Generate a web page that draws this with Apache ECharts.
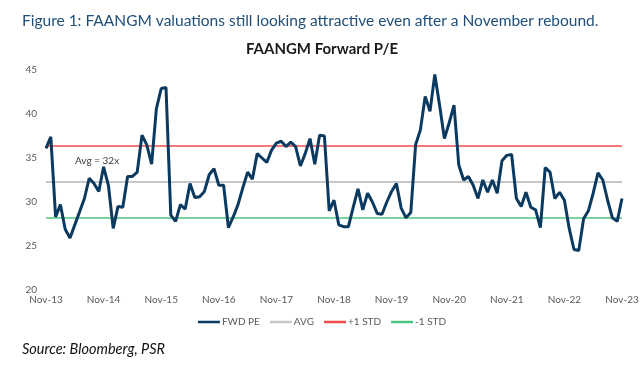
<!DOCTYPE html>
<html>
<head>
<meta charset="utf-8">
<script src="https://cdn.jsdelivr.net/npm/echarts@6/dist/echarts.min.js"></script>
<style>
html,body{margin:0;padding:0;background:#fff;}
#c{width:644px;height:365px;}
</style>
</head>
<body>
<div id="c"></div>
<script>
// Monthly Forward P/E, Nov-13 .. Nov-23
const fwdPE = [
  36.1, 37.4, 28.3, 29.7, 26.9, 25.9, 27.4, 28.9, 30.4, 32.7, 32.1, 31.2,
  34.0, 31.9, 27.0, 29.5, 29.4, 32.9, 32.9, 33.4, 37.6, 36.5, 34.3, 40.6,
  42.9, 43.0, 28.5, 27.8, 29.7, 29.2, 32.1, 30.5, 30.6, 31.2, 33.1, 33.8,
  31.9, 31.9, 27.1, 28.3, 29.7, 31.6, 33.4, 32.6, 35.5, 35.0, 34.5, 35.9,
  36.7, 36.9, 36.3, 36.8, 36.3, 34.1, 35.5, 37.2, 34.3, 37.6, 37.5, 29.0,
  30.2, 27.4, 27.2, 27.2, 29.4, 31.5, 29.1, 31.0, 30.0, 28.7, 28.6, 30.0,
  31.2, 32.1, 29.3, 28.2, 28.8, 36.5, 38.2, 42.0, 40.3, 44.5, 41.0, 37.2,
  39.0, 41.0, 34.2, 32.5, 32.9, 31.9, 30.4, 32.5, 31.1, 32.5, 31.0, 34.7,
  35.3, 35.4, 30.4, 29.5, 31.1, 29.4, 29.1, 27.1, 33.9, 33.4, 30.4, 31.1,
  30.2, 27.0, 24.6, 24.5, 28.1, 29.0, 31.0, 33.3, 32.5, 30.2, 28.2, 27.8,
  30.4
];
const avgValue = 32.3;
const plusStd = 36.4;
const minusStd = 28.2;
const yTicks = [20, 25, 30, 35, 40, 45];
const monthNames = ['Jan','Feb','Mar','Apr','May','Jun','Jul','Aug','Sep','Oct','Nov','Dec'];
const startYear = 13, startMonth = 10; // Nov-13

const categories = [];
for (let i = 0; i < fwdPE.length; i++) {
  const m = (startMonth + i) % 12;
  const y = startYear + Math.floor((startMonth + i) / 12);
  categories.push(monthNames[m] + '-' + y);
}

const font = 'Lato, "Open Sans", sans-serif';
const chart = echarts.init(document.getElementById('c'), null, {renderer: 'canvas'});
chart.setOption({
  animation: false,
  backgroundColor: '#fff',
  title: [
    {text: 'Figure 1: FAANGM valuations still looking attractive even after a November rebound.',
     left: 17, top: 8,
     textStyle: {fontFamily: font, fontSize: 15.5, fontWeight: 'normal', color: '#1F4E79'}},
    {text: 'FAANGM Forward P/E', left: 'center', top: 37,
     textStyle: {fontFamily: font, fontSize: 15, fontWeight: 'bold', color: '#1a1a1a'}},
    {text: 'Source: Bloomberg, PSR', left: 17, top: 337,
     textStyle: {fontFamily: font, fontSize: 14.5, fontWeight: 'normal', fontStyle: 'italic', color: '#111'}}
  ],
  grid: {left: 46, right: 22, top: 70, bottom: 75, containLabel: false},
  xAxis: {
    type: 'category', data: categories, boundaryGap: false,
    axisLine: {show: false}, axisTick: {show: false}, splitLine: {show: false},
    axisLabel: {interval: 11, color: '#595959', fontSize: 10, fontFamily: font, margin: 5}
  },
  yAxis: {
    type: 'value', min: yTicks[0], max: yTicks[yTicks.length - 1], interval: 5,
    axisLine: {show: false}, axisTick: {show: false}, splitLine: {show: false},
    axisLabel: {color: '#595959', fontSize: 10, fontFamily: font, margin: 9}
  },
  legend: {
    bottom: 33, left: 'center', icon: 'rect', itemWidth: 22, itemHeight: 2.5, itemGap: 10,
    textStyle: {color: '#595959', fontSize: 10, fontFamily: font, padding: [0, 0, 0, -3]},
    data: ['FWD PE', 'AVG', '+1 STD', '-1 STD']
  },
  graphic: [
    {type: 'text', left: 75, top: 156,
     style: {text: 'Avg = 32x', fill: '#404040', font: '10px ' + font}}
  ],
  series: [
    {name: 'FWD PE', type: 'line', data: fwdPE, symbol: 'none', z: 5,
     lineStyle: {color: '#0B3A60', width: 3}, itemStyle: {color: '#0B3A60'}},
    {name: 'AVG', type: 'line', data: [], symbol: 'none',
     lineStyle: {color: '#C8C8C8', width: 2}, itemStyle: {color: '#C8C8C8'},
     markLine: {silent: true, symbol: 'none', label: {show: false},
       lineStyle: {color: '#C8C8C8', width: 2, type: 'solid'}, data: [{yAxis: avgValue}]}},
    {name: '+1 STD', type: 'line', data: [], symbol: 'none',
     lineStyle: {color: '#F24C4C', width: 1.5}, itemStyle: {color: '#F24C4C'},
     markLine: {silent: true, symbol: 'none', label: {show: false},
       lineStyle: {color: '#F24C4C', width: 1.5, type: 'solid'}, data: [{yAxis: plusStd}]}},
    {name: '-1 STD', type: 'line', data: [], symbol: 'none',
     lineStyle: {color: '#4CC47E', width: 1.5}, itemStyle: {color: '#4CC47E'},
     markLine: {silent: true, symbol: 'none', label: {show: false},
       lineStyle: {color: '#4CC47E', width: 1.5, type: 'solid'}, data: [{yAxis: minusStd}]}}
  ]
});
</script>
</body>
</html>
